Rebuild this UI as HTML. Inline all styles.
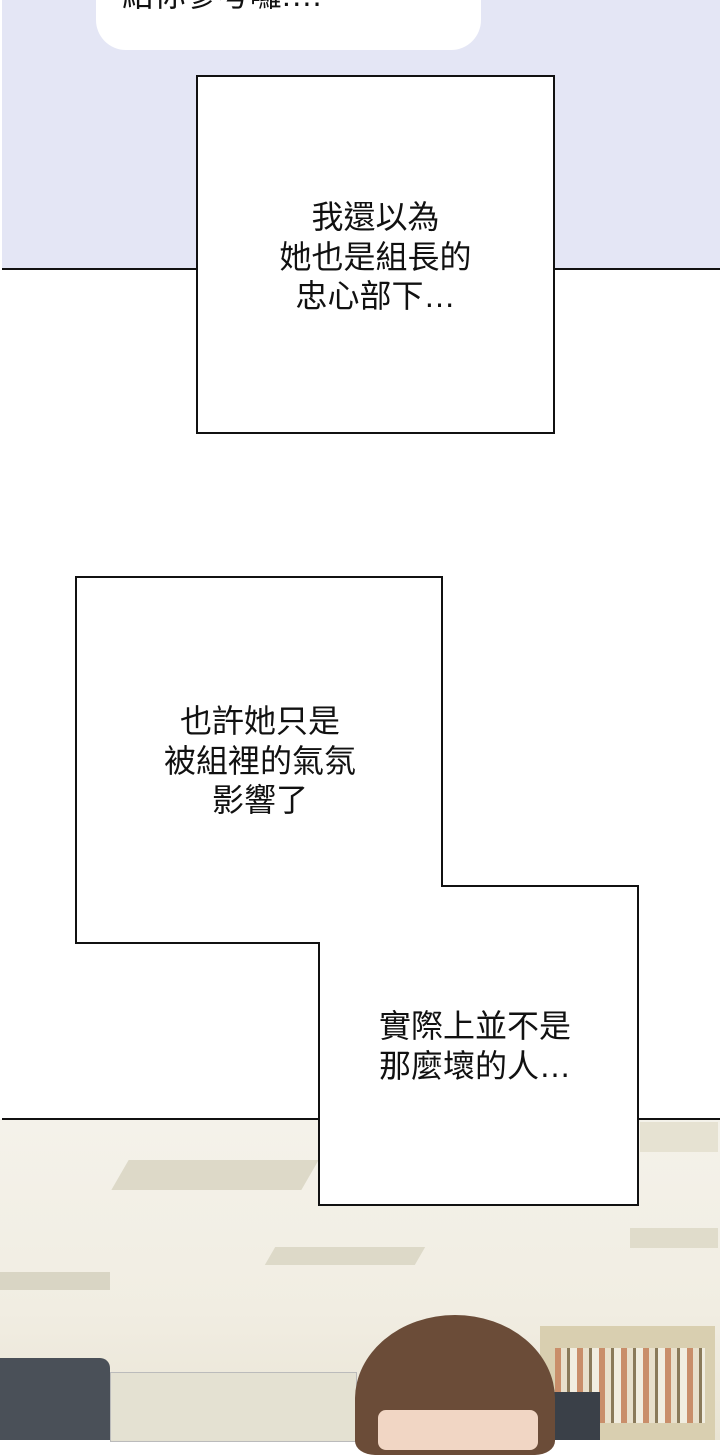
<!DOCTYPE html>
<html><head><meta charset="utf-8"><style>
body{margin:0;width:720px;height:1440px;position:relative;overflow:hidden;background:#fff;font-family:"Liberation Sans","Noto Sans CJK TC",sans-serif;}
.abs{position:absolute}
.t{position:absolute;text-align:center;font-size:32px;line-height:39.5px;color:#111;white-space:nowrap}
</style></head><body>
<div class="abs" style="left:2px;top:0;width:718px;height:268px;background:#e4e6f5;border-bottom:2px solid #111"></div>
<div class="abs" style="left:96px;top:-40px;width:385px;height:90px;background:#fff;border-radius:0 0 30px 30px"></div>
<div class="t" style="left:122px;top:-24px;text-align:left">給你參考囉!…</div>
<div class="abs" style="left:0;top:1119px;width:720px;height:321px;background:linear-gradient(#f4f2ea,#f1ede2 60%,#e9e4d4)"></div>
<div class="abs" style="left:2px;top:1118px;width:718px;height:2px;background:#111"></div>
<div class="abs" style="left:120px;top:1160px;width:190px;height:30px;background:#ddd9c8;transform:skewX(-30deg)"></div>
<div class="abs" style="left:270px;top:1247px;width:150px;height:18px;background:#ddd9c8;transform:skewX(-30deg)"></div>
<div class="abs" style="left:0;top:1272px;width:110px;height:18px;background:#d9d5c4"></div>
<div class="abs" style="left:630px;top:1228px;width:88px;height:20px;background:#e0dccb"></div>
<div class="abs" style="left:640px;top:1122px;width:78px;height:30px;background:#e6e2d2"></div>
<div class="abs" style="left:110px;top:1372px;width:245px;height:68px;background:#e4e1d2;border:1px solid #bbb"></div>
<div class="abs" style="left:540px;top:1326px;width:175px;height:114px;background:#d9cfb0"></div>
<div class="abs" style="left:555px;top:1348px;width:150px;height:75px;background:repeating-linear-gradient(90deg,#c98e6a 0 6px,#e8e0cc 6px 12px,#8a7a5a 12px 15px,#f1ede0 15px 22px)"></div>
<div class="abs" style="left:550px;top:1392px;width:50px;height:48px;background:#3a4048"></div>
<div class="abs" style="left:0;top:1358px;width:110px;height:82px;background:#4a5058;border-radius:0 10px 0 0"></div>
<div class="abs" style="left:355px;top:1315px;width:200px;height:140px;background:#6b4c38;border-radius:50% 50% 10% 10% / 60% 60% 10% 10%"></div>
<div class="abs" style="left:378px;top:1410px;width:160px;height:40px;background:#f1d6c4;border-radius:8px"></div>
<div class="abs" style="left:196px;top:75px;width:355px;height:355px;background:#fff;border:2px solid #111"></div>
<div class="t" style="left:196px;width:359px;top:198px">我還以為<br>她也是組長的<br>忠心部下…</div>
<svg class="abs" style="left:0;top:0" width="720" height="1440"><polygon points="76,577 442,577 442,886 638,886 638,1205 319,1205 319,943 76,943" fill="#fff" stroke="#111" stroke-width="2"/></svg>
<div class="t" style="left:60px;width:400px;top:702px">也許她只是<br>被組裡的氣氛<br>影響了</div>
<div class="t" style="left:379px;width:220px;top:1007px;text-align:left">實際上並不是<br>那麼壞的人…</div>
</body></html>
